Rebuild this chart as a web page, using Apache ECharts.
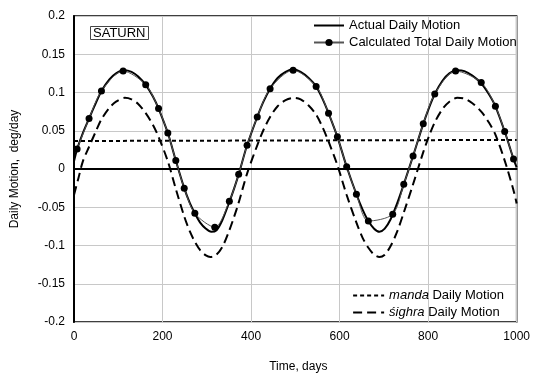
<!DOCTYPE html>
<html>
<head>
<meta charset="utf-8">
<script src="https://cdn.jsdelivr.net/npm/echarts@6/dist/echarts.min.js"></script>
<style>
  html, body { margin: 0; padding: 0; background: #fff; }
  #chart { width: 533px; height: 378px; }
</style>
</head>
<body>
<div id="chart"></div>
<script>
(function () {
    'use strict';

    // Actual daily motion (deg/day)
    var actualDays = [0, 7, 20, 34, 50, 62, 80, 95, 113, 130, 145, 162, 178, 191, 212, 230, 249, 262, 273, 285, 298, 310, 322, 335, 351, 362, 372, 391, 414, 428, 443, 460, 478, 495, 512, 530, 547, 562, 575, 595, 616, 638, 652, 665, 678, 690, 702, 715, 730, 745, 766, 789, 802, 815, 832, 848, 865, 882, 900, 920, 937, 952, 973, 993, 1000];
    var actualVals = [0.010, 0.026, 0.047, 0.066, 0.087, 0.102, 0.117, 0.125, 0.129, 0.127, 0.121, 0.110, 0.095, 0.079, 0.047, 0.011, -0.025, -0.045, -0.058, -0.070, -0.078, -0.082, -0.080, -0.067, -0.043, -0.025, -0.007, 0.031, 0.068, 0.088, 0.105, 0.119, 0.127, 0.130, 0.127, 0.119, 0.108, 0.091, 0.073, 0.042, 0.003, -0.033, -0.053, -0.068, -0.078, -0.082, -0.078, -0.066, -0.045, -0.020, 0.017, 0.059, 0.080, 0.098, 0.115, 0.125, 0.129, 0.128, 0.122, 0.112, 0.098, 0.082, 0.049, 0.013, 0.002];

    // Calculated total daily motion (markers)
    var calcDays = [7, 34, 62, 111, 162, 191, 212, 230, 249, 273, 318, 351, 372, 391, 414, 443, 495, 547, 575, 595, 616, 638, 665, 720, 745, 766, 789, 815, 862, 920, 952, 973, 993];
    var calcVals = [0.026, 0.066, 0.102, 0.128, 0.110, 0.079, 0.047, 0.011, -0.025, -0.058, -0.076, -0.042, -0.007, 0.031, 0.068, 0.105, 0.129, 0.108, 0.073, 0.042, 0.003, -0.033, -0.068, -0.059, -0.020, 0.017, 0.059, 0.098, 0.128, 0.113, 0.082, 0.049, 0.013];

    // manda daily motion (nearly constant)
    var mandaDays = [0, 1000];
    var mandaVals = [0.0366, 0.0380];

    // sighra daily motion
    var sighraDays = [0, 10, 20, 34, 50, 62, 80, 95, 115, 130, 145, 162, 178, 191, 212, 230, 249, 262, 273, 285, 298, 308, 320, 335, 351, 362, 372, 391, 414, 428, 443, 460, 478, 497, 512, 530, 547, 562, 575, 595, 616, 638, 652, 665, 678, 690, 702, 715, 730, 745, 766, 789, 802, 815, 832, 848, 866, 882, 900, 920, 937, 952, 973, 993, 1000];
    var sighraVals = [-0.034, -0.012, 0.010, 0.029, 0.050, 0.065, 0.080, 0.088, 0.093, 0.091, 0.085, 0.073, 0.058, 0.042, 0.010, -0.026, -0.062, -0.082, -0.095, -0.106, -0.113, -0.115, -0.113, -0.102, -0.080, -0.062, -0.044, -0.006, 0.031, 0.051, 0.068, 0.082, 0.090, 0.093, 0.091, 0.083, 0.071, 0.054, 0.036, 0.005, -0.034, -0.070, -0.090, -0.103, -0.112, -0.115, -0.112, -0.101, -0.082, -0.057, -0.020, 0.022, 0.043, 0.061, 0.078, 0.088, 0.093, 0.092, 0.086, 0.075, 0.061, 0.045, 0.011, -0.028, -0.045];

    var FONT = 'Liberation Sans, Arial, sans-serif';
    var NO_SYMBOL = { opacity: 0 };

    function pairs(xs, ys) {
        return xs.map(function (x, i) { return [x, ys[i]]; });
    }

    var chart = echarts.init(document.getElementById('chart'), null, { renderer: 'canvas' });

    chart.setOption({
        animation: false,
        backgroundColor: '#fff',
        textStyle: { fontFamily: FONT },
        title: {
            text: 'SATURN',
            left: 90,
            top: 26,
            padding: [1, 3, 0, 3],
            borderColor: '#444',
            borderWidth: 1,
            textStyle: { fontSize: 13, fontWeight: 'normal', color: '#000', fontFamily: FONT }
        },
        grid: {
            left: 74, right: 15, top: 16, bottom: 56,
            show: true, borderColor: '#000', borderWidth: 1.5
        },
        legend: [{
            data: [
                { name: 'Actual Daily Motion', itemStyle: NO_SYMBOL },
                { name: 'Calculated Total Daily Motion' }
            ],
            orient: 'vertical',
            left: 308,
            top: 14,
            itemWidth: 30,
            itemHeight: 9,
            itemGap: 4,
            textStyle: { fontSize: 13, color: '#000', fontFamily: FONT }
        }, {
            data: [
                { name: 'manda Daily Motion', itemStyle: NO_SYMBOL },
                { name: 'śighra Daily Motion', itemStyle: NO_SYMBOL }
            ],
            orient: 'vertical',
            right: 24,
            top: 284,
            itemWidth: 31,
            itemHeight: 9,
            itemGap: 4,
            formatter: function (name) {
                var parts = name.split(' ');
                return '{i|' + parts[0] + '} ' + parts.slice(1).join(' ');
            },
            textStyle: {
                fontSize: 13, color: '#000', fontFamily: FONT,
                rich: { i: { fontStyle: 'italic', fontSize: 13, fontFamily: FONT } }
            }
        }],
        xAxis: {
            type: 'value',
            min: 0, max: 1000, interval: 200,
            name: 'Time, days',
            nameLocation: 'middle',
            nameGap: 39,
            nameTextStyle: { fontSize: 12, color: '#000', padding: [0, 0, 0, 6] },
            axisLine: { lineStyle: { color: '#000', width: 2 } },
            axisTick: { show: false },
            axisLabel: {
                fontSize: 12, color: '#000', margin: 9,
                formatter: function (v) { return String(v); }
            },
            splitLine: { lineStyle: { color: '#c8c8c8', width: 1 } }
        },
        yAxis: {
            type: 'value',
            min: -0.2, max: 0.2, interval: 0.05,
            name: 'Daily Motion,  deg/day',
            nameLocation: 'middle',
            nameGap: 53,
            nameTextStyle: { fontSize: 12, color: '#000' },
            axisLine: { show: true, lineStyle: { color: '#000', width: 2 } },
            axisTick: { show: false },
            axisLabel: { fontSize: 12, color: '#000', margin: 9 },
            splitLine: { lineStyle: { color: '#c8c8c8', width: 1 } }
        },
        series: [{
            name: 'manda Daily Motion',
            type: 'line',
            data: pairs(mandaDays, mandaVals),
            symbol: 'none',
            lineStyle: { color: '#000', width: 2, type: [4, 3] },
            itemStyle: { color: '#000' },
            markLine: {
                silent: true,
                symbol: 'none',
                label: { show: false },
                lineStyle: { color: '#000', width: 1, type: 'solid' },
                data: [{ yAxis: 0 }]
            },
            z: 3
        }, {
            name: 'śighra Daily Motion',
            type: 'line',
            data: pairs(sighraDays, sighraVals),
            smooth: 0.3,
            symbol: 'none',
            lineStyle: { color: '#000', width: 2, type: [9, 5] },
            itemStyle: { color: '#000' },
            z: 3
        }, {
            name: 'Actual Daily Motion',
            type: 'line',
            data: pairs(actualDays, actualVals),
            smooth: 0.3,
            symbol: 'none',
            lineStyle: { color: '#000', width: 2 },
            itemStyle: { color: '#000' },
            z: 4
        }, {
            name: 'Calculated Total Daily Motion',
            type: 'line',
            data: pairs(calcDays, calcVals),
            smooth: 0.3,
            symbol: 'circle',
            symbolSize: 7,
            showAllSymbol: true,
            lineStyle: { color: '#555', width: 1 },
            itemStyle: { color: '#000' },
            z: 5
        }]
    });
})();
</script>
</body>
</html>
